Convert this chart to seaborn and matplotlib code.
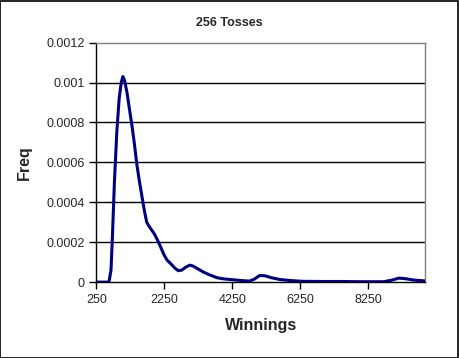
import numpy as np
import pandas as pd
import seaborn as sns
import matplotlib
matplotlib.use("Agg")
import matplotlib.pyplot as plt
from matplotlib.patches import Rectangle
from matplotlib.ticker import FuncFormatter

# valores (256 lancamentos)
winnings = [250, 500, 620, 680, 720, 780, 850, 920, 980, 1030, 1080, 1150, 1220, 1300,
            1370, 1440, 1520, 1590, 1660, 1730, 1800, 1880, 1960, 2050, 2130, 2230,
            2330, 2450, 2560, 2660, 2760, 2880, 3000, 3100, 3250, 3400, 3600, 3800,
            4000, 4250, 4500, 4750, 4900, 5050, 5200, 5400, 5650, 5950, 6300, 7000,
            7500, 8000, 8700, 8950, 9150, 9350, 9600, 9920]
freq = [0, 0, 0, 0.00006, 0.00022, 0.0005, 0.00075, 0.00092, 0.001, 0.00103, 0.00101,
        0.00095, 0.00087, 0.00078, 0.00069, 0.00059, 0.0005, 0.00043, 0.00036, 0.0003,
        0.00028, 0.00026, 0.00024, 0.00021, 0.00018, 0.00014, 0.00011, 0.00009, 0.00007,
        0.000057, 0.00006, 0.000075, 0.000085, 0.00008, 0.000065, 0.00005, 0.000035,
        0.000022, 0.000016, 0.000012, 0.000008, 0.000005, 0.000015, 0.000033, 0.000032,
        0.000022, 0.000013, 0.000008, 0.000004, 0.000003, 0.000003, 0.000002, 0.000002,
        0.00001, 0.00002, 0.000017, 0.00001, 0.000006]
x_ticks = [250, 2250, 4250, 6250, 8250]
y_ticks = [0, 0.0002, 0.0004, 0.0006, 0.0008, 0.001, 0.0012]

df = pd.DataFrame({"Winnings": winnings, "Freq": freq})

sns.set_style("white")
plt.rcParams['font.family'] = ['Liberation Sans', 'DejaVu Sans']

fig = plt.figure(figsize=(4.59, 3.58), dpi=100)
ax = fig.add_axes([0.210, 0.212, 0.716, 0.669])

for y in y_ticks[1:-1]:
    ax.axhline(y, color='black', lw=1, zorder=1)

sns.lineplot(data=df, x="Winnings", y="Freq", color='#000080', lw=2.2, ax=ax, zorder=3)

ax.set_xlim(250, 9920)
ax.set_ylim(0, 0.0012)
ax.set_xticks(x_ticks)
ax.set_yticks(y_ticks)
ax.yaxis.set_major_formatter(FuncFormatter(lambda v, p: '%g' % v))
ax.tick_params(axis='both', labelsize=9, length=5, width=1, color='black',
               direction='out', bottom=True, left=True)

for s in ['left', 'bottom']:
    ax.spines[s].set_color('black')
    ax.spines[s].set_linewidth(1)
for s in ['top', 'right']:
    ax.spines[s].set_color('#808080')
    ax.spines[s].set_linewidth(1)

ax.set_xlabel('Winnings', fontsize=11.5, fontweight='bold', labelpad=9)
ax.set_ylabel('Freq', fontsize=11.5, fontweight='bold', labelpad=10)
fig.text(0.5, 0.935, '256 Tosses', ha='center', va='center', fontsize=9, fontweight='bold')

fig.patches.append(Rectangle((0.001, 0.001), 0.997, 0.996, transform=fig.transFigure,
                             fill=False, edgecolor='black', lw=1.2))

plt.savefig('out.png', dpi=100)
